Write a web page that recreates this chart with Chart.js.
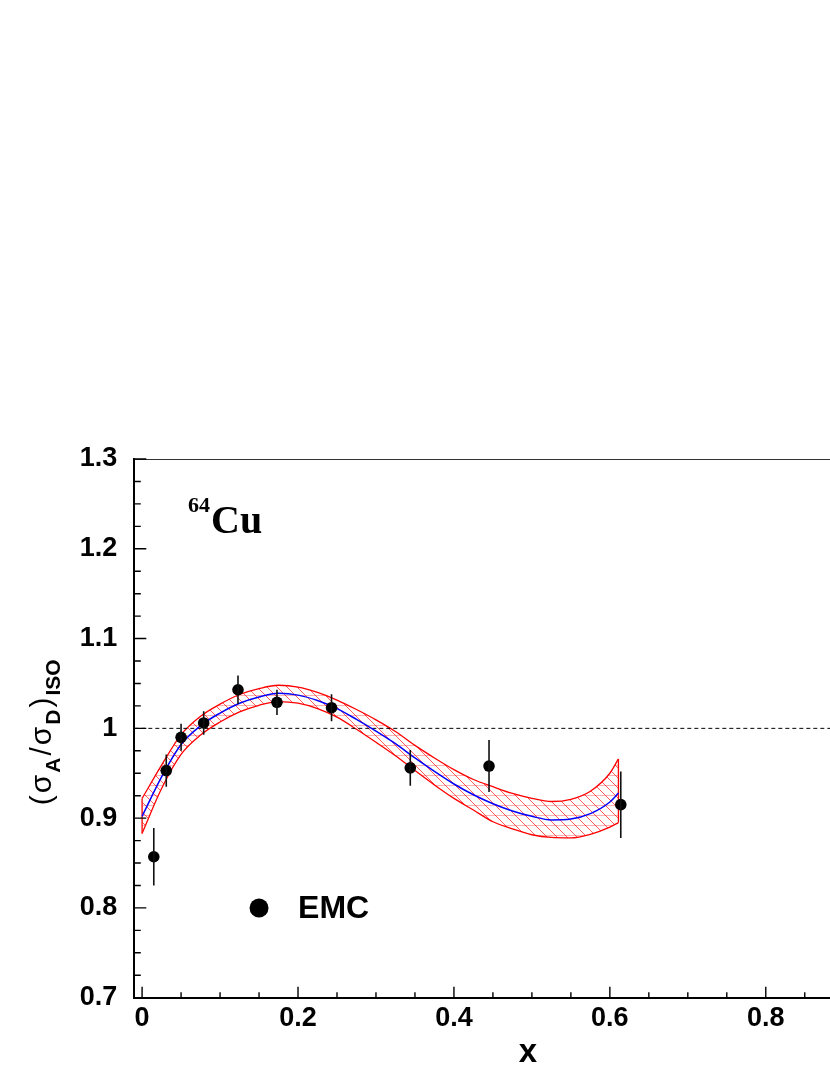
<!DOCTYPE html>
<html><head><meta charset="utf-8">
<script src="https://cdn.jsdelivr.net/npm/chart.js@4.4.1/dist/chart.umd.min.js"></script>
<style>
html,body{margin:0;padding:0;overflow:hidden;background:#fff;width:830px;height:1075px}
#wrap{position:absolute;left:0;top:0;width:960px;height:1075px}
canvas{display:block}
</style></head><body>
<div id="wrap"><canvas id="c" width="960" height="1075"></canvas></div>
<script>
// ---- data ----
const emcX   = [0.015, 0.031, 0.050, 0.079, 0.123, 0.173, 0.243, 0.344, 0.445, 0.614];
const emcY   = [0.857, 0.953, 0.990, 1.006, 1.043, 1.029, 1.023, 0.956, 0.958, 0.915];
const emcErr = [0.032, 0.018, 0.015, 0.013, 0.016, 0.014, 0.015, 0.020, 0.029, 0.037];

const fitX = [0, 0.025, 0.05, 0.075, 0.1, 0.125, 0.15, 0.175, 0.2, 0.225, 0.25, 0.275, 0.3,
              0.325, 0.35, 0.375, 0.4, 0.425, 0.45, 0.475, 0.5, 0.525, 0.55, 0.575, 0.6, 0.611];
const fitY = [0.902, 0.946, 0.982, 1.003, 1.017, 1.028, 1.035, 1.039, 1.037, 1.031, 1.022, 1.010, 0.997,
              0.983, 0.967, 0.952, 0.938, 0.926, 0.916, 0.908, 0.902, 0.898, 0.899, 0.905, 0.918, 0.928];
const bandUpper = [0.922, 0.959, 0.993, 1.0135, 1.027, 1.0377, 1.0443, 1.048, 1.046, 1.040, 1.0315, 1.021, 1.0095,
                   0.9965, 0.981, 0.967, 0.954, 0.943, 0.935, 0.9275, 0.922, 0.9185, 0.921, 0.930, 0.950, 0.966];
const bandLower = [0.883, 0.933, 0.971, 0.9925, 1.007, 1.0183, 1.0257, 1.0298, 1.028, 1.022, 1.0125, 0.999, 0.9845,
                   0.9695, 0.953, 0.937, 0.922, 0.909, 0.896, 0.888, 0.8815, 0.8785, 0.878, 0.882, 0.890, 0.895];

const refValue = 1.0;
const xRange = [-0.01, 1.0];
const yRange = [0.7, 1.3];
const xTickValues = [0, 0.2, 0.4, 0.6, 0.8, 1.0];
const xTickLabels = ['0', '0.2', '0.4', '0.6', '0.8', '1'];
const yTickValues = [0.7, 0.8, 0.9, 1.0, 1.1, 1.2, 1.3];
const yTickLabels = ['0.7', '0.8', '0.9', '1', '1.1', '1.2', '1.3'];
const legendLabel = 'EMC';
const nucleusMass = '64';
const nucleusName = 'Cu';
const xTitle = 'x';

// ---- styling ----
const SANS = '"Liberation Sans", Arial, Helvetica, sans-serif';
const SERIF = '"Liberation Serif", "Times New Roman", serif';

function makeHatch() {
  const c = document.createElement('canvas');
  c.width = 10; c.height = 10;
  const g = c.getContext('2d');
  g.strokeStyle = 'rgba(255,0,0,0.30)';
  g.lineWidth = 1;
  g.beginPath(); g.moveTo(0, 5.5); g.lineTo(10, 5.5); g.stroke();
  g.strokeStyle = 'rgba(255,0,0,0.80)';
  g.lineWidth = 0.8;
  g.beginPath();
  g.moveTo(-1, -1); g.lineTo(11, 11);
  g.moveTo(-6, 4); g.lineTo(6, 16);
  g.moveTo(4, -6); g.lineTo(16, 6);
  g.stroke();
  return g.createPattern(c, 'repeat');
}

const pts = (xs, ys) => xs.map((v, i) => ({x: v, y: ys[i]}));
const last = fitX.length - 1;

const deco = {
  id: 'deco',
  afterDatasetsDraw(chart) {
    const {ctx, chartArea: a, scales: {x, y}} = chart;
    ctx.save();
    // top frame line
    ctx.strokeStyle = '#333'; ctx.lineWidth = 1;
    ctx.beginPath(); ctx.moveTo(a.left, a.top + 0.5); ctx.lineTo(a.right, a.top + 0.5); ctx.stroke();
    // inward ticks
    ctx.strokeStyle = '#000'; ctx.lineWidth = 1.4;
    ctx.beginPath();
    for (let k = 0; k <= 20; k++) {
      const px = x.getPixelForValue(k * 0.05);
      const len = (k % 4 === 0) ? 11 : 5.5;
      ctx.moveTo(px, a.bottom); ctx.lineTo(px, a.bottom - len);
    }
    for (let k = 0; k <= 24; k++) {
      const py = y.getPixelForValue(yRange[0] + k * 0.025);
      const len = (k % 4 === 0) ? 12 : 6.5;
      ctx.moveTo(a.left, py); ctx.lineTo(a.left + len, py);
    }
    ctx.stroke();
    // error bars
    ctx.strokeStyle = '#111'; ctx.lineWidth = 1.6;
    ctx.beginPath();
    emcX.forEach((v, i) => {
      const px = x.getPixelForValue(v);
      ctx.moveTo(px, y.getPixelForValue(emcY[i] - emcErr[i]));
      ctx.lineTo(px, y.getPixelForValue(emcY[i] + emcErr[i]));
    });
    ctx.stroke();
    ctx.restore();
  },
  afterDraw(chart) {
    const {ctx, scales: {x, y}} = chart;
    ctx.save();
    ctx.fillStyle = '#000';
    // nucleus label
    const nx = x.getPixelForValue(0.059), ny = y.getPixelForValue(1.218);
    ctx.textBaseline = 'alphabetic'; ctx.textAlign = 'left';
    ctx.font = 'bold 22px ' + SERIF;
    ctx.fillText(nucleusMass, nx, ny - 21);
    const w64 = ctx.measureText(nucleusMass).width;
    ctx.font = 'bold 40px ' + SERIF;
    ctx.fillText(nucleusName, nx + w64 + 1, ny);
    // legend
    const lx = x.getPixelForValue(0.15), ly = y.getPixelForValue(0.80);
    ctx.beginPath(); ctx.arc(lx, ly, 9.5, 0, Math.PI * 2); ctx.fill();
    ctx.font = 'bold 32px ' + SANS;
    ctx.textBaseline = 'middle';
    ctx.fillText(legendLabel, lx + 39, ly + 1);
    // y title (σA/σD)ISO rotated
    const parts = [
      ['(', 0], ['σ', 0], ['A', 1], ['/', 0], ['σ', 0], ['D', 1], [')', 0], ['ISO', 1]
    ];
    const mainF = '30px ' + SANS, subF = 'bold 21px ' + SANS;
    const gap = 2;
    let total = 0;
    const widths = parts.map(([t, s]) => { ctx.font = s ? subF : mainF; const w = ctx.measureText(t).width; total += w; return w; });
    total += gap * (parts.length - 1);
    const cy = (y.getPixelForValue(yRange[0]) + y.getPixelForValue(yRange[1])) / 2 + 4;
    ctx.translate(51, cy);
    ctx.rotate(-Math.PI / 2);
    ctx.textBaseline = 'alphabetic';
    let cx = -total / 2;
    parts.forEach(([t, s], i) => {
      ctx.font = s ? subF : mainF;
      ctx.fillText(t, cx, s ? 9 : 0);
      cx += widths[i] + gap;
    });
    ctx.restore();
  }
};

const tickFont = {family: SANS, size: 27, weight: 'bold'};

new Chart(document.getElementById('c'), {
  type: 'scatter',
  data: {
    datasets: [
      {label: legendLabel, data: pts(emcX, emcY), pointRadius: 5.8, pointBackgroundColor: '#000',
       pointBorderColor: '#000', pointBorderWidth: 0, showLine: false, order: 0},
      {label: 'fit', data: pts(fitX, fitY), showLine: true, borderColor: '#0000ff', borderWidth: 1.5,
       pointRadius: 0, cubicInterpolationMode: 'monotone', fill: false, order: 1},
      {label: 'ref', data: [{x: xRange[0], y: refValue}, {x: xRange[1], y: refValue}], showLine: true,
       borderColor: '#000', borderWidth: 1, borderDash: [4, 3], pointRadius: 0, fill: false, order: 2},
      {label: 'upper', data: pts(fitX, bandUpper), showLine: true, borderColor: '#ff0000', borderWidth: 1.3,
       pointRadius: 0, cubicInterpolationMode: 'monotone', fill: '+1', backgroundColor: makeHatch(), order: 5},
      {label: 'lower', data: pts(fitX, bandLower), showLine: true, borderColor: '#ff0000', borderWidth: 1.3,
       pointRadius: 0, cubicInterpolationMode: 'monotone', fill: false, order: 4},
      {label: 'edge0', data: [{x: fitX[0], y: bandLower[0]}, {x: fitX[0], y: bandUpper[0]}], showLine: true,
       borderColor: '#ff0000', borderWidth: 1.3, pointRadius: 0, fill: false, order: 3},
      {label: 'edge1', data: [{x: fitX[last], y: bandLower[last]}, {x: fitX[last], y: bandUpper[last]}], showLine: true,
       borderColor: '#ff0000', borderWidth: 1.3, pointRadius: 0, fill: false, order: 3}
    ]
  },
  options: {
    responsive: false, animation: false, devicePixelRatio: 1, events: [],
    layout: {padding: {top: 459, right: 38.3, left: 0, bottom: 0}},
    plugins: {legend: {display: false}, tooltip: {enabled: false}},
    scales: {
      x: {
        type: 'linear', min: xRange[0], max: xRange[1],
        afterFit(s) { s.height = 77.3; },
        afterBuildTicks(s) { s.ticks = xTickValues.map(v => ({value: v})); },
        ticks: {callback: (v, i) => xTickLabels[i], font: tickFont, color: '#000', padding: 4.5,
                maxRotation: 0, autoSkip: false},
        grid: {display: false, drawTicks: false},
        border: {display: true, color: '#000', width: 2},
        title: {display: true, text: xTitle, color: '#000', font: {family: SANS, size: 33, weight: 'bold'},
                padding: {top: 0, bottom: 2.5}}
      },
      y: {
        type: 'linear', min: yRange[0], max: yRange[1],
        afterFit(s) { s.width = 134.3; },
        afterBuildTicks(s) { s.ticks = yTickValues.map(v => ({value: v})); },
        ticks: {callback: (v, i) => yTickLabels[i], font: tickFont, color: '#000', padding: 17, autoSkip: false},
        grid: {display: false, drawTicks: false},
        border: {display: true, color: '#000', width: 2}
      }
    }
  },
  plugins: [deco]
});
</script>
</body></html>
